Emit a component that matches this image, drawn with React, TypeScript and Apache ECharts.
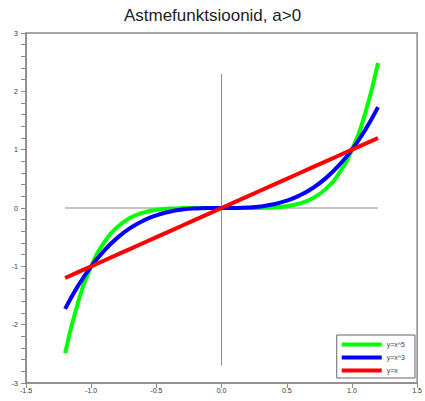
import React, { useEffect, useRef } from "react";
import * as echarts from "echarts";

const xValues = [-1.2, -1.1, -1.0, -0.9, -0.8, -0.7, -0.6, -0.5, -0.4, -0.3, -0.2, -0.1, 0, 0.1, 0.2, 0.3, 0.4, 0.5, 0.6, 0.7, 0.8, 0.9, 1.0, 1.1, 1.2];
const quinticValues = [-2.488, -1.611, -1.0, -0.590, -0.328, -0.168, -0.078, -0.031, -0.010, -0.002, -0.0003, 0, 0, 0, 0.0003, 0.002, 0.010, 0.031, 0.078, 0.168, 0.328, 0.590, 1.0, 1.611, 2.488];
const cubicValues = [-1.728, -1.331, -1.0, -0.729, -0.512, -0.343, -0.216, -0.125, -0.064, -0.027, -0.008, -0.001, 0, 0.001, 0.008, 0.027, 0.064, 0.125, 0.216, 0.343, 0.512, 0.729, 1.0, 1.331, 1.728];
const linearValues = [-1.2, -1.1, -1.0, -0.9, -0.8, -0.7, -0.6, -0.5, -0.4, -0.3, -0.2, -0.1, 0, 0.1, 0.2, 0.3, 0.4, 0.5, 0.6, 0.7, 0.8, 0.9, 1.0, 1.1, 1.2];
const seriesNames = ["y=x^5", "y=x^3", "y=x"];
const vAxisLine = [[0, -2.7], [0, 2.3]];
const hAxisLine = [[-1.2, 0], [1.2, 0]];

export default function App() {
  const ref = useRef<HTMLDivElement>(null);
  useEffect(() => {
    const chart = echarts.init(ref.current!, null, { renderer: "svg" });
    const pair = (ys: number[]) => xValues.map((x, i) => [x, ys[i]]);
    const axisColor = "#8a8a8a";
    const labelStyle = { fontSize: 7, color: "#333", fontFamily: "Liberation Sans, Arial, sans-serif" };
    chart.setOption({
      animation: false,
      title: {
        text: "Astmefunktsioonid, a>0",
        left: "center",
        top: 2,
        textStyle: { fontSize: 17, fontWeight: "normal", color: "#222", fontFamily: "Liberation Sans, Arial, sans-serif" },
      },
      grid: { left: 26, right: 5, top: 33, bottom: 18, show: true, borderColor: axisColor, borderWidth: 1.5 },
      xAxis: {
        type: "value",
        min: -1.5,
        max: 1.5,
        interval: 0.5,
        axisLine: { show: true, onZero: false, lineStyle: { color: axisColor, width: 1.5 } },
        axisTick: { show: true, length: 5, lineStyle: { color: axisColor } },
        splitLine: { show: false },
        axisLabel: { ...labelStyle, margin: 4, formatter: (v: number) => v.toFixed(1) },
      },
      yAxis: {
        type: "value",
        min: -3,
        max: 3,
        interval: 1,
        axisLine: { show: true, onZero: false, lineStyle: { color: axisColor, width: 1.5 } },
        axisTick: { show: true, length: 5, lineStyle: { color: axisColor } },
        minorTick: { show: true, splitNumber: 5, length: 5, lineStyle: { color: axisColor } },
        splitLine: { show: false },
        axisLabel: { ...labelStyle, margin: 8 },
      },
      legend: {
        data: seriesNames,
        orient: "vertical",
        right: 10,
        bottom: 23,
        icon: "rect",
        itemWidth: 40,
        itemHeight: 4,
        itemGap: 6,
        padding: [6, 10, 4, 5],
        backgroundColor: "#fff",
        borderColor: "#666",
        borderWidth: 1,
        textStyle: { fontSize: 7, color: "#444", fontFamily: "Liberation Sans, Arial, sans-serif" },
      },
      series: [
        { type: "line", data: vAxisLine, symbol: "none", lineStyle: { color: "#888", width: 1 }, silent: true },
        { type: "line", data: hAxisLine, symbol: "none", lineStyle: { color: "#888", width: 1 }, silent: true },
        { name: seriesNames[0], type: "line", data: pair(quinticValues), smooth: true, symbol: "none", itemStyle: { color: "#00ff00" }, lineStyle: { color: "#00ff00", width: 4 } },
        { name: seriesNames[1], type: "line", data: pair(cubicValues), smooth: true, symbol: "none", itemStyle: { color: "#0000ff" }, lineStyle: { color: "#0000ff", width: 4 } },
        { name: seriesNames[2], type: "line", data: pair(linearValues), symbol: "none", itemStyle: { color: "#ff0000" }, lineStyle: { color: "#ff0000", width: 4 } },
      ],
    });
    return () => chart.dispose();
  }, []);
  return <div ref={ref} style={{ width: 425, height: 401, position: "absolute", left: 0, top: 0 }} />;
}
